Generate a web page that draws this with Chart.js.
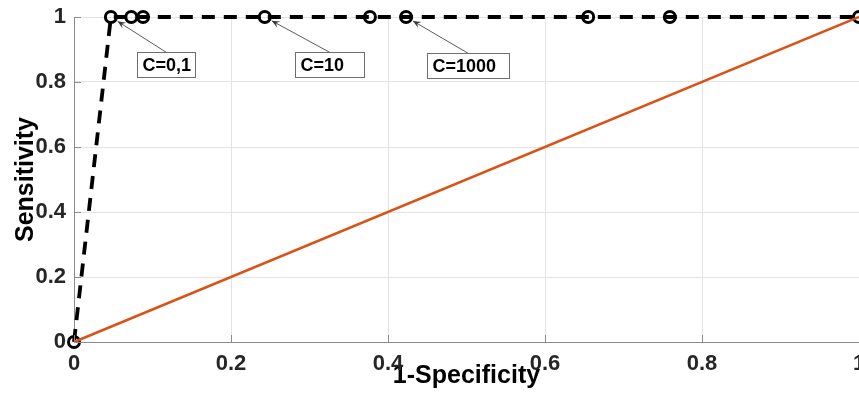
<!DOCTYPE html>
<html>
<head>
<meta charset="utf-8">
<script src="https://cdn.jsdelivr.net/npm/chart.js@4/dist/chart.umd.min.js"></script>
<style>
  html, body { margin: 0; padding: 0; background: #fff; overflow: hidden; }
  #wrap { width: 859px; height: 397px; position: relative; }
</style>
</head>
<body>
<div id="wrap"><canvas id="roc"></canvas></div>
<script>
// ROC curve points (1-specificity, sensitivity)
const rocX = [0, 0.047, 0.073, 0.088, 0.243, 0.377, 0.423, 0.655, 0.759, 1];
const rocY = [0, 1, 1, 1, 1, 1, 1, 1, 1, 1];

// chance diagonal
const diagX = [0, 1];
const diagY = [0, 1];

// tick values
const xTicks = [0, 0.2, 0.4, 0.6, 0.8, 1];
const yTicks = [0, 0.2, 0.4, 0.6, 0.8, 1];

// annotations: label and the ROC point it points at
const annoLabels = ['C=0,1', 'C=10', 'C=1000'];
const annoPointX = [0.047, 0.243, 0.423];
const annoPointY = [1, 1, 1];

// annotation box placement (data coords of top-left corner, box width in px)
const annoLayout = {
    left: [0.0803, 0.2815, 0.4497],
    top: [0.892, 0.892, 0.889],
    width: [58, 69, 82],
    height: 25
};

const FONT = "'Liberation Sans', Arial, Helvetica, sans-serif";

const toPoints = (xs, ys) => xs.map((x, i) => ({ x: x, y: ys[i] }));
const fmtTick = v => String(Number(v.toFixed(1)));

// inward tick marks like the original axes
const tickMarks = {
    id: 'tickMarks',
    afterDraw(chart) {
        const { ctx, chartArea, scales } = chart;
        ctx.save();
        ctx.strokeStyle = '#8c8c8c';
        ctx.lineWidth = 1;
        ctx.beginPath();
        xTicks.forEach(v => {
            const px = Math.round(scales.x.getPixelForValue(v)) + 0.5;
            ctx.moveTo(px, chartArea.bottom);
            ctx.lineTo(px, chartArea.bottom - 7);
        });
        yTicks.forEach(v => {
            const py = Math.round(scales.y.getPixelForValue(v)) + 0.5;
            ctx.moveTo(chartArea.left, py);
            ctx.lineTo(chartArea.left + 7, py);
        });
        ctx.stroke();
        ctx.restore();
    }
};

// text boxes with arrows
const annotations = {
    id: 'annotations',
    afterDatasetsDraw(chart) {
        const { ctx, scales } = chart;
        ctx.save();
        annoLabels.forEach((label, i) => {
            const bx = Math.round(scales.x.getPixelForValue(annoLayout.left[i])) + 0.5;
            const by = Math.round(scales.y.getPixelForValue(annoLayout.top[i])) + 0.5;
            const bw = annoLayout.width[i];
            const bh = annoLayout.height;

            // arrow from box top centre to the point
            const tx = bx + bw / 2;
            const ty = by;
            const px = scales.x.getPixelForValue(annoPointX[i]);
            const py = scales.y.getPixelForValue(annoPointY[i]);
            const dx = tx - px, dy = ty - py;
            const len = Math.sqrt(dx * dx + dy * dy);
            const ux = dx / len, uy = dy / len;
            const hx = px + ux * 8, hy = py + uy * 8;

            ctx.strokeStyle = '#5a5a5a';
            ctx.fillStyle = '#3a3a3a';
            ctx.lineWidth = 1;
            ctx.beginPath();
            ctx.moveTo(tx, ty);
            ctx.lineTo(hx, hy);
            ctx.stroke();

            // arrow head
            const ah = 8, aw = 3.5;
            const nx = -uy, ny = ux;
            ctx.beginPath();
            ctx.moveTo(hx, hy);
            ctx.lineTo(hx + ux * ah + nx * aw, hy + uy * ah + ny * aw);
            ctx.lineTo(hx + ux * ah * 0.6, hy + uy * ah * 0.6);
            ctx.lineTo(hx + ux * ah - nx * aw, hy + uy * ah - ny * aw);
            ctx.closePath();
            ctx.fill();

            // box
            ctx.fillStyle = '#ffffff';
            ctx.fillRect(bx, by, bw, bh);
            ctx.strokeStyle = '#6e6e6e';
            ctx.strokeRect(bx, by, bw, bh);

            ctx.fillStyle = '#000000';
            ctx.font = 'bold 18px ' + FONT;
            ctx.textAlign = 'left';
            ctx.textBaseline = 'middle';
            ctx.fillText(label, bx + 5, by + bh / 2 + 1);
        });
        ctx.restore();
    }
};

new Chart(document.getElementById('roc'), {
    type: 'scatter',
    data: {
        datasets: [
            {
                label: 'diagonal',
                data: toPoints(diagX, diagY),
                showLine: true,
                borderColor: '#D95319',
                borderWidth: 2.5,
                pointRadius: 0,
                order: 0,
                clip: false
            },
            {
                label: 'ROC',
                data: toPoints(rocX, rocY),
                showLine: true,
                borderColor: '#000000',
                borderWidth: 3.8,
                borderDash: [13, 9],
                pointRadius: 5.5,
                pointBorderWidth: 3,
                pointBorderColor: '#000000',
                pointBackgroundColor: 'rgba(0,0,0,0)',
                order: 1,
                clip: false
            }
        ]
    },
    options: {
        responsive: true,
        maintainAspectRatio: false,
        animation: false,
        layout: { autoPadding: false, padding: { top: 17, right: 0, left: 0, bottom: 0 } },
        plugins: {
            legend: { display: false },
            tooltip: { enabled: false }
        },
        scales: {
            x: {
                type: 'linear',
                min: 0,
                max: 1,
                afterBuildTicks: scale => { scale.ticks = xTicks.map(v => ({ value: v })); },
                afterFit: scale => {
                    scale.height = 55;
                    scale.paddingLeft = 0;
                    scale.paddingRight = 0;
                },
                grid: { color: '#e3e3e3', drawTicks: false },
                border: { color: '#8c8c8c', width: 1 },
                ticks: {
                    color: '#262626',
                    padding: 9,
                    maxRotation: 0,
                    callback: fmtTick,
                    font: { family: FONT, size: 22, weight: 'bold' }
                },
                title: {
                    display: true,
                    text: '1-Specificity',
                    color: '#000000',
                    padding: { top: 0, bottom: 6 },
                    font: { family: FONT, size: 25, weight: 'bold' }
                }
            },
            y: {
                type: 'linear',
                min: 0,
                max: 1,
                afterBuildTicks: scale => { scale.ticks = yTicks.map(v => ({ value: v })); },
                afterFit: scale => {
                    scale.width = 74;
                    scale.paddingTop = 0;
                    scale.paddingBottom = 0;
                },
                grid: { color: '#e3e3e3', drawTicks: false },
                border: { color: '#8c8c8c', width: 1 },
                ticks: {
                    color: '#262626',
                    padding: 8,
                    callback: fmtTick,
                    font: { family: FONT, size: 22, weight: 'bold' }
                },
                title: {
                    display: true,
                    text: 'Sensitivity',
                    color: '#000000',
                    padding: { top: 11, bottom: 0 },
                    font: { family: FONT, size: 25, weight: 'bold' }
                }
            }
        }
    },
    plugins: [tickMarks, annotations]
});
</script>
</body>
</html>
